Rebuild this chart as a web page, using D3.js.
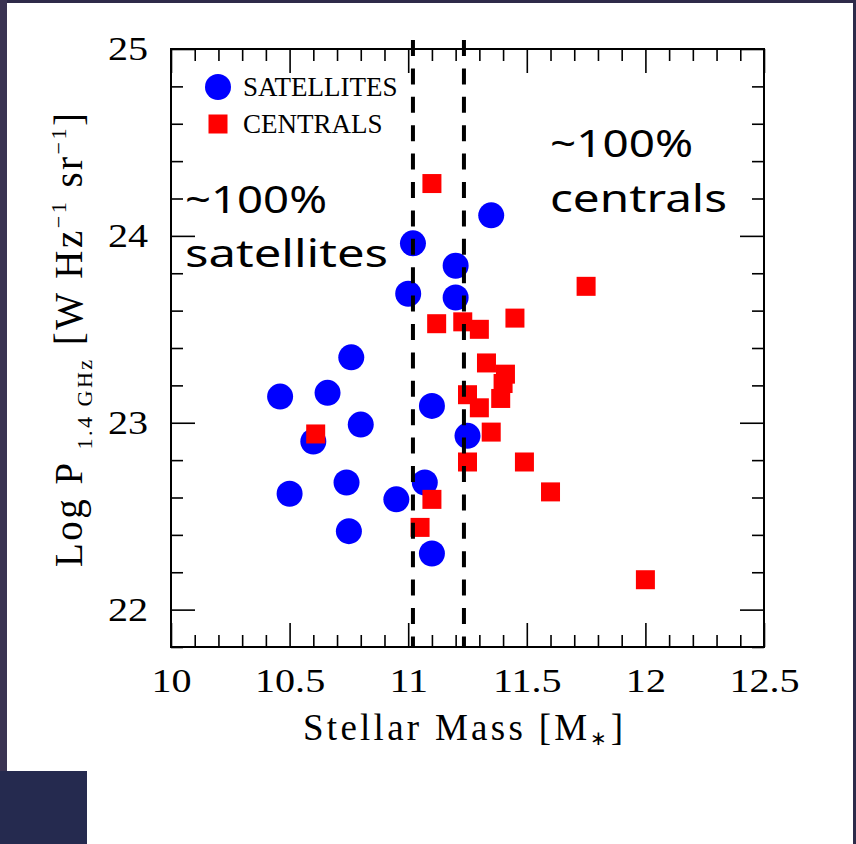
<!DOCTYPE html>
<html>
<head>
<meta charset="utf-8">
<script src="https://cdn.jsdelivr.net/npm/d3@7"></script>
<style>
  html, body { margin: 0; padding: 0; background: #ffffff; }
  svg { display: block; }
</style>
</head>
<body>
<svg id="chart" width="856" height="844"></svg>
<script>
// Satellite galaxies: log stellar mass and log 1.4 GHz radio power
const satMass  = [10.46, 10.66, 10.76, 10.80, 10.60, 10.50, 10.74, 10.95, 10.75, 11.07, 11.10, 11.10, 11.25, 11.35, 11.02, 11.20, 11.20, 11.00];
const satPower = [23.14, 23.16, 23.35, 22.99, 22.90, 22.62, 22.68, 22.59, 22.42, 22.68, 22.30, 23.09, 22.93, 24.11, 23.96, 23.84, 23.67, 23.69];

// Central galaxies
const cenMass  = [11.10, 11.12, 11.23, 11.30, 11.45, 11.75, 11.33, 11.41, 11.40, 11.39, 11.25, 11.30, 11.35, 11.25, 11.49, 10.61, 11.10, 11.05, 11.60, 12.00];
const cenPower = [24.28, 23.53, 23.54, 23.50, 23.56, 23.73, 23.32, 23.26, 23.21, 23.13, 23.15, 23.08, 22.95, 22.79, 22.79, 22.94, 22.59, 22.44, 22.63, 22.16];

// Mass limits separating the two regimes
const splitMass = [11.02, 11.235];

// Axis ticks
const xMajor = [10, 10.5, 11, 11.5, 12, 12.5];
const yMajor = [22, 23, 24, 25];
const xMinor = d3.range(0, 26).filter(i => i % 5 !== 0).map(i => 10 + i * 0.1);
const yMinor = d3.range(0, 17).filter(i => i % 5 !== 1).map(i => 21.8 + i * 0.2);

const legendLabels = ["SATELLITES", "CENTRALS"];

const svg = d3.select("#chart");
const serif = "'Liberation Serif', 'Times New Roman', serif";
const casual = "'Comic Sans MS', 'Noto Sans', sans-serif";

// Page frame
svg.append("rect").attr("x", 0).attr("y", 0).attr("width", 856).attr("height", 844).attr("fill", "#ffffff");
svg.append("rect").attr("x", 0).attr("y", 0).attr("width", 856).attr("height", 3).attr("fill", "#2e2a49");
svg.append("rect").attr("x", 0).attr("y", 0).attr("width", 7).attr("height", 771).attr("fill", "#3a3352");
svg.append("rect").attr("x", 853).attr("y", 0).attr("width", 3).attr("height", 844).attr("fill", "#2d2b4a");
svg.append("rect").attr("x", 0).attr("y", 771).attr("width", 87).attr("height", 73).attr("fill", "#252a4f");

const x = d3.scaleLinear().domain([10, 12.5]).range([171, 764]);
const y = d3.scaleLinear().domain([21.8, 25]).range([647, 49]);

// Markers
const sats = d3.zip(satMass, satPower);
const cens = d3.zip(cenMass, cenPower);

svg.append("g").selectAll("circle").data(sats).join("circle")
  .attr("cx", d => x(d[0])).attr("cy", d => y(d[1])).attr("r", 13)
  .attr("fill", "#0000ff");

const sq = 19;
svg.append("g").selectAll("rect").data(cens).join("rect")
  .attr("x", d => x(d[0]) - sq / 2).attr("y", d => y(d[1]) - sq / 2)
  .attr("width", sq).attr("height", sq)
  .attr("fill", "#ff0000");

// Dashed mass limits with a soft halo
const defs = svg.append("defs");
defs.append("filter").attr("id", "halo").attr("x", "-300%").attr("y", "-10%").attr("width", "700%").attr("height", "120%")
  .append("feGaussianBlur").attr("stdDeviation", 3.5);

const lim = svg.append("g");
lim.selectAll("line.halo").data(splitMass).join("line").attr("class", "halo")
  .attr("x1", d => x(d)).attr("x2", d => x(d)).attr("y1", 34).attr("y2", 652)
  .attr("stroke", "#000").attr("stroke-opacity", 0.6).attr("stroke-width", 10)
  .attr("filter", "url(#halo)");
lim.selectAll("line.dash").data(splitMass).join("line").attr("class", "dash")
  .attr("x1", d => x(d)).attr("x2", d => x(d)).attr("y1", 40).attr("y2", 648)
  .attr("stroke", "#000").attr("stroke-width", 4).attr("stroke-dasharray", "16 12.4");

// Plot box
svg.append("rect").attr("x", 171).attr("y", 49).attr("width", 593).attr("height", 598)
  .attr("fill", "none").attr("stroke", "#000").attr("stroke-width", 2);

// Ticks on all four sides, pointing inward
function addAxis(gen, tx, ty) {
  const g = svg.append("g").attr("transform", `translate(${tx},${ty})`).call(gen);
  g.select(".domain").remove();
  g.selectAll(".tick line").attr("stroke", "#000").attr("stroke-width", 1.6);
  return g;
}
const sx = 1.18;
const gb = addAxis(d3.axisBottom(x).tickValues(xMajor).tickSize(-24).tickPadding(21).tickFormat(d3.format("")), 0, 647);
addAxis(d3.axisBottom(x).tickValues(xMinor).tickSize(-12).tickFormat(""), 0, 647);
addAxis(d3.axisTop(x).tickValues(xMajor).tickSize(-24).tickFormat(""), 0, 49);
addAxis(d3.axisTop(x).tickValues(xMinor).tickSize(-12).tickFormat(""), 0, 49);
const gl = addAxis(d3.axisLeft(y).tickValues(yMajor).tickSize(-24).tickPadding(23).tickFormat(d3.format("")), 171, 0);
addAxis(d3.axisLeft(y).tickValues(yMinor).tickSize(-12).tickFormat(""), 171, 0);
addAxis(d3.axisRight(y).tickValues(yMajor).tickSize(-24).tickFormat(""), 764, 0);
addAxis(d3.axisRight(y).tickValues(yMinor).tickSize(-12).tickFormat(""), 764, 0);

gb.selectAll(".tick text").attr("font-family", serif).attr("font-size", 34).attr("fill", "#000")
  .attr("transform", `scale(${sx},1)`);
gl.selectAll(".tick text").attr("font-family", serif).attr("font-size", 34).attr("fill", "#000")
  .attr("x", -23 / sx).attr("transform", `scale(${sx},1)`);

// Axis titles
const xt = svg.append("text").attr("x", 463).attr("y", 740).attr("text-anchor", "middle")
  .attr("font-family", serif).attr("font-size", 37).attr("fill", "#000")
  .attr("textLength", 320).attr("lengthAdjust", "spacing");
xt.append("tspan").text("Stellar Mass [M");
xt.append("tspan").attr("font-size", 20).attr("dy", 5).text("∗");
xt.append("tspan").attr("dy", -5).text("]");

const yt = svg.append("text").attr("transform", "translate(82,340) rotate(-90)").attr("text-anchor", "middle")
  .attr("font-family", serif).attr("font-size", 39).attr("fill", "#000")
  .attr("textLength", 454).attr("lengthAdjust", "spacing");
yt.append("tspan").text("Log P ");
yt.append("tspan").attr("font-size", 22).attr("dy", 10).text("1.4 GHz");
yt.append("tspan").attr("dy", -10).text(" [W Hz");
yt.append("tspan").attr("font-size", 22).attr("dy", -16).text("−1");
yt.append("tspan").attr("dy", 16).text("  sr");
yt.append("tspan").attr("font-size", 22).attr("dy", -16).text("−1");
yt.append("tspan").attr("dy", 16).text("]");

// Legend
const leg = svg.append("g");
leg.append("circle").attr("cx", 218).attr("cy", 87).attr("r", 13).attr("fill", "#0000ff");
leg.append("rect").attr("x", 218 - 9.5).attr("y", 124 - 9.5).attr("width", 19).attr("height", 19).attr("fill", "#ff0000");
leg.selectAll("text").data(legendLabels).join("text")
  .attr("x", 243).attr("y", (d, i) => 96 + i * 37)
  .attr("font-family", serif).attr("font-size", 27).attr("fill", "#000")
  .text(d => d);

// Regime annotations
const notes = [
  { t: "~100%", x: 185, y: 213, w: 142 },
  { t: "satellites", x: 185, y: 267, w: 203 },
  { t: "~100%", x: 550, y: 157, w: 143 },
  { t: "centrals", x: 550, y: 212, w: 177 }
];
svg.append("g").selectAll("text").data(notes).join("text")
  .attr("x", d => d.x).attr("y", d => d.y)
  .attr("font-family", casual).attr("font-size", 39).attr("fill", "#000")
  .attr("textLength", d => d.w).attr("lengthAdjust", "spacingAndGlyphs")
  .text(d => d.t);
</script>
</body>
</html>
